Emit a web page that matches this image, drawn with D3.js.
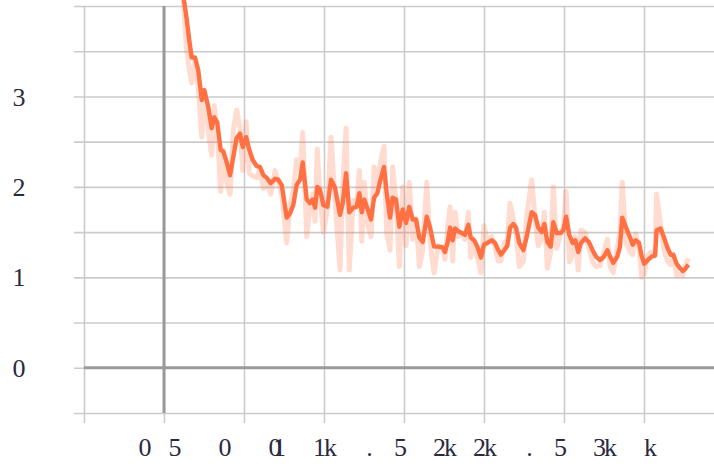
<!DOCTYPE html>
<html><head><meta charset="utf-8">
<script src="https://cdn.jsdelivr.net/npm/d3@7"></script>
<style>html,body{margin:0;padding:0;background:#fff;overflow:hidden}</style>
</head><body>
<svg id="c" width="714" height="466"></svg>
<script>
const steps = [112,142,158,173,194,214,236,252,277,298,314,333,354,371,392,413,433,454,475,492,513,533,554,579,600,621,642,667,694,714,736,767,788,808,829,850,867,892,913,929,944,958,975,996,1021,1044,1069,1100,1117,1138,1158,1183,1204,1221,1236,1252,1273,1294,1313,1333,1350,1375,1392,1413,1429,1450,1471,1492,1513,1533,1554,1575,1596,1617,1642,1663,1688,1714,1742,1756,1773,1788,1804,1819,1839,1861,1881,1902,1917,1938,1958,1981,2000,2021,2048,2069,2089,2106,2127,2146,2163,2183,2200,2221,2246,2267,2298,2319,2339,2361,2377,2396,2417,2433,2454,2479,2496,2513,2533,2554,2571,2589,2606,2631,2656,2679,2700,2725,2750,2771,2788,2808,2833,2850,2864,2888,2913,2929,2948,2969,2986,3002,3023,3048,3069,3079,3104,3125,3146,3167,3183,3204,3225,3242,3256,3277];
const smoothed = [4.23,3.85,3.62,3.43,3.43,3.29,2.96,3.07,2.88,2.65,2.77,2.71,2.41,2.39,2.27,2.13,2.33,2.54,2.59,2.44,2.55,2.41,2.30,2.23,2.22,2.13,2.10,2.04,2.09,2.08,2.02,1.66,1.71,1.80,2.02,2.08,2.27,1.86,1.82,1.86,1.77,2.00,1.97,1.80,1.78,2.08,1.99,1.69,1.82,2.15,1.72,1.77,1.78,1.93,1.72,1.86,1.75,1.64,1.88,1.93,2.06,2.22,1.93,1.66,1.88,1.86,1.56,1.75,1.60,1.78,1.64,1.64,1.44,1.39,1.67,1.55,1.34,1.34,1.33,1.28,1.39,1.55,1.41,1.54,1.51,1.49,1.47,1.58,1.44,1.41,1.34,1.22,1.36,1.38,1.41,1.38,1.30,1.25,1.30,1.35,1.55,1.59,1.55,1.38,1.30,1.45,1.72,1.69,1.55,1.50,1.59,1.39,1.34,1.61,1.49,1.49,1.52,1.67,1.47,1.38,1.41,1.28,1.38,1.43,1.39,1.30,1.23,1.19,1.23,1.30,1.23,1.16,1.23,1.34,1.66,1.55,1.44,1.36,1.41,1.38,1.23,1.15,1.19,1.23,1.24,1.52,1.54,1.44,1.33,1.25,1.25,1.15,1.10,1.07,1.09,1.14];
const raw = [4.30,3.50,3.30,3.15,3.40,3.10,2.55,3.05,2.62,2.35,2.90,2.62,1.95,2.40,2.05,1.92,2.62,2.85,2.65,2.18,2.72,2.15,2.12,2.10,2.20,1.98,2.05,1.92,2.18,2.05,1.92,1.38,1.80,1.95,2.30,2.20,2.60,1.45,1.78,1.92,1.62,2.42,1.90,1.50,1.75,2.55,1.85,1.08,2.02,2.65,1.08,1.85,1.80,2.18,1.40,2.05,1.58,1.45,2.22,2.02,2.25,2.45,1.50,1.30,2.22,1.85,1.12,2.00,1.35,2.05,1.42,1.65,1.12,1.30,2.05,1.38,1.05,1.35,1.32,1.20,1.55,1.78,1.18,1.72,1.45,1.48,1.42,1.72,1.22,1.38,1.22,1.05,1.57,1.40,1.45,1.33,1.18,1.18,1.38,1.42,1.82,1.65,1.48,1.12,1.18,1.68,2.08,1.65,1.35,1.43,1.72,1.10,1.28,2.00,1.32,1.48,1.55,1.95,1.17,1.25,1.45,1.08,1.52,1.50,1.32,1.17,1.12,1.13,1.28,1.42,1.12,1.05,1.33,1.50,2.05,1.38,1.28,1.25,1.48,1.33,1.00,1.04,1.25,1.28,1.25,1.92,1.57,1.30,1.18,1.14,1.25,1.02,1.03,1.02,1.12,1.21];
const xTicks = [-500,0,500,1000,1500,2000,2500,3000];
const xTickLabels = ["","0","500","1k","1.5k","2k","2.5k","3k"];
const yTicks = [-0.5,0,0.5,1,1.5,2,2.5,3,3.5,4];
const yTickLabels = ["","0","","1","","2","","3","",""];

const svg = d3.select("#c");
const W = 714, H = 466;
const x = d3.scaleLinear().domain([-500, 3437.5]).range([84, 714]);
const y = d3.scaleLinear().domain([-0.5, 4]).range([413, 6]);
const font = "'Liberation Serif','Times New Roman',serif";
const textColor = "#2a2a3e";

svg.append("rect").attr("width", W).attr("height", H).attr("fill", "#fff");

// horizontal grid (axis placed at right edge, ticks reaching left beyond the plot)
const gy = svg.append("g").attr("transform", "translate(714,0)")
  .call(d3.axisLeft(y).tickValues(yTicks).tickSize(640).tickFormat(""));
gy.select(".domain").remove();
gy.selectAll(".tick line").attr("stroke", "#cbcbcb").attr("stroke-width", 1.6);

// vertical grid
const gx = svg.append("g").attr("transform", "translate(0,423)")
  .call(d3.axisBottom(x).tickValues(xTicks).tickSize(-417).tickFormat(""));
gx.select(".domain").remove();
gx.selectAll(".tick line").attr("stroke", "#cbcbcb").attr("stroke-width", 1.6);

// zero lines
svg.append("line").attr("x1", x(0)).attr("x2", x(0)).attr("y1", y(4)).attr("y2", y(-0.5))
  .attr("stroke", "#9a9a9a").attr("stroke-width", 3);
svg.append("line").attr("x1", x(-500)).attr("x2", 714).attr("y1", y(0)).attr("y2", y(0))
  .attr("stroke", "#9a9a9a").attr("stroke-width", 3);

// y labels
svg.append("g").selectAll("text").data(yTicks.map((v, i) => ({v, t: yTickLabels[i]})).filter(d => d.t))
  .join("text")
  .attr("x", 19).attr("y", d => y(d.v)).attr("dy", "0.35em")
  .attr("text-anchor", "middle")
  .attr("font-family", font).attr("font-size", 26).attr("fill", textColor)
  .text(d => d.t);

// x labels: characters spread out, group centred a bit left of each tick
const xl = svg.append("g");
xTicks.forEach((v, i) => {
  const lab = xTickLabels[i];
  if (!lab) return;
  const chars = lab.split("");
  const pos = [0];
  for (let k = 1; k < chars.length; k++) {
    const gap = chars[k - 1] === "." ? 31 : (chars.length === 2 ? 51 : 50);
    pos.push(pos[k - 1] + gap);
  }
  const c = (pos[0] + pos[pos.length - 1]) / 2;
  const cx = x(v) - 19;
  chars.forEach((ch, k) => {
    xl.append("text").attr("x", cx + pos[k] - c).attr("y", 456)
      .attr("text-anchor", "middle")
      .attr("font-family", font).attr("font-size", 26).attr("fill", textColor)
      .text(ch);
  });
});

const color = "#ff7043";
const pts = steps.map((s, i) => ({s, r: raw[i], m: smoothed[i]}));
svg.append("path").datum(pts)
  .attr("d", d3.line().x(d => x(d.s)).y(d => y(d.r)))
  .attr("fill", "none").attr("stroke", color).attr("stroke-opacity", 0.25)
  .attr("stroke-width", 5).attr("stroke-linejoin", "round");
svg.append("path").datum(pts)
  .attr("d", d3.line().x(d => x(d.s)).y(d => y(d.m)))
  .attr("fill", "none").attr("stroke", color)
  .attr("stroke-width", 4.4).attr("stroke-linejoin", "round");
</script>
</body></html>
